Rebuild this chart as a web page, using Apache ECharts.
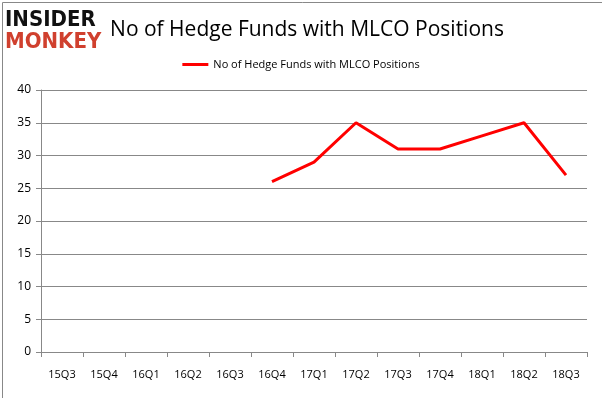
<!DOCTYPE html>
<html>
<head>
<meta charset="utf-8">
<script src="https://cdn.jsdelivr.net/npm/echarts@6/dist/echarts.min.js"></script>
<style>
  html, body { margin: 0; padding: 0; background: #fff; }
  #main { width: 602px; height: 398px; }
</style>
</head>
<body>
<div id="main"></div>
<script>
const quarters = ['15Q3', '15Q4', '16Q1', '16Q2', '16Q3', '16Q4', '17Q1', '17Q2', '17Q3', '17Q4', '18Q1', '18Q2', '18Q3'];
const hedgeFunds = [null, null, null, null, null, 26, 29, 35, 31, 31, 33, 35, 27];
const seriesName = 'No of Hedge Funds with MLCO Positions';

const chart = echarts.init(document.getElementById('main'));
chart.setOption({
  animation: false,
  title: {
    text: seriesName,
    left: 302,
    textAlign: 'center',
    top: 15,
    textStyle: { fontFamily: 'Open Sans', fontSize: 21, fontWeight: 'normal', color: '#000' }
  },
  legend: {
    data: [seriesName],
    top: 54,
    left: 'center',
    itemWidth: 26,
    itemHeight: 3,
    itemGap: 4,
    icon: 'rect',
    textStyle: { fontFamily: 'Open Sans', fontSize: 11, color: '#000' }
  },
  grid: { left: 41, right: 15, top: 90, bottom: 46, containLabel: false },
  xAxis: {
    type: 'category',
    data: quarters,
    boundaryGap: true,
    axisLine: { lineStyle: { color: '#888' } },
    axisTick: { show: true, alignWithLabel: false, length: 5, lineStyle: { color: '#888' } },
    axisLabel: { fontFamily: 'Open Sans', fontSize: 11, color: '#000', margin: 17, interval: 0 },
    splitLine: { show: false }
  },
  yAxis: {
    type: 'value',
    min: 0,
    max: 40,
    interval: 5,
    axisLine: { show: true, lineStyle: { color: '#888' } },
    axisTick: { show: true, length: 5, lineStyle: { color: '#888' } },
    axisLabel: { fontFamily: 'Open Sans', fontSize: 12, color: '#000', margin: 10 },
    splitLine: { lineStyle: { color: '#888' } }
  },
  series: [{
    name: seriesName,
    type: 'line',
    data: hedgeFunds,
    symbol: 'none',
    connectNulls: false,
    lineStyle: { color: '#ff0000', width: 3 },
    itemStyle: { color: '#ff0000' }
  }],
  graphic: [
    {
      type: 'rect',
      left: 0, top: 0,
      shape: { width: 601, height: 397 },
      style: { fill: 'none', stroke: '#888', lineWidth: 1 },
      silent: true
    },
    {
      type: 'text',
      left: 5, top: 9,
      style: { text: 'INSIDER', fill: '#111', font: 'bold 22px "DejaVu Sans Condensed", "DejaVu Sans"' }
    },
    {
      type: 'text',
      left: 5, top: 31,
      style: { text: 'MONKEY', fill: '#d0402e', font: 'bold 22px "DejaVu Sans Condensed", "DejaVu Sans"' }
    }
  ]
});
</script>
</body>
</html>
